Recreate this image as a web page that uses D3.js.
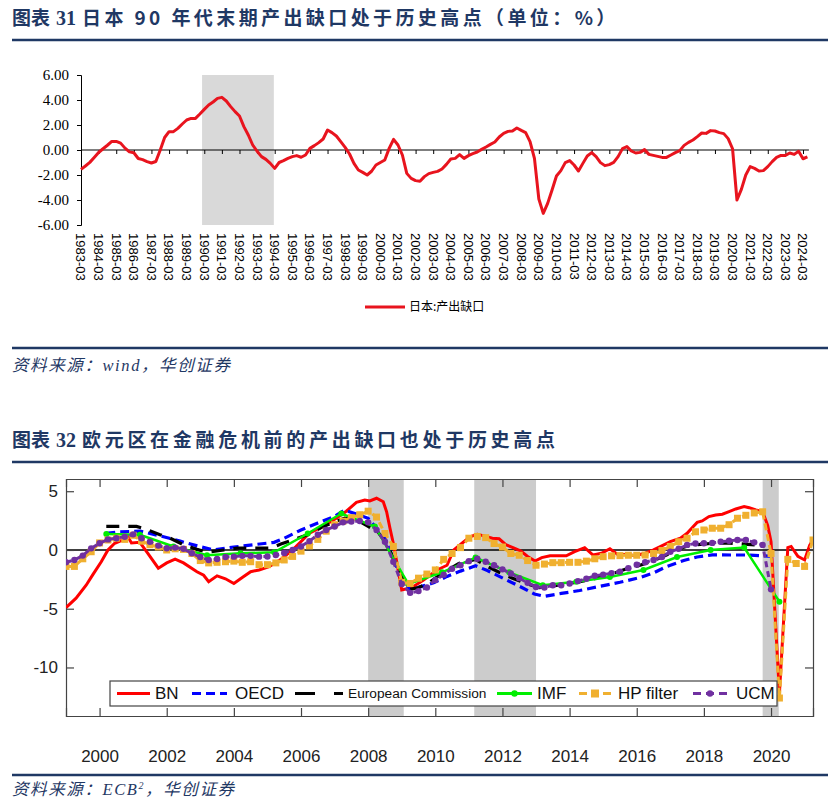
<!DOCTYPE html>
<html><head><meta charset="utf-8">
<script src="https://cdn.jsdelivr.net/npm/d3@7"></script>
<style>
body{margin:0;background:#fff;}
svg{display:block;}
</style></head><body>
<svg id="c" width="840" height="812"></svg>
<script>
// ---------------- Chart 31 data (Japan output gap, quarterly from 1983-03) ----------------
const jpStart = "1983-03";
const jpGap = [
-1.55,-1.28,-0.99,-0.6,-0.2,0.1,0.38,0.69,0.69,0.55,0.15,-0.15,-0.22,-0.68,-0.77,-0.93,-1.04,-0.92,0.0,1.0,
1.47,1.47,1.73,2.08,2.4,2.53,2.53,2.88,3.25,3.6,3.84,4.13,4.21,3.92,3.47,3.07,2.72,1.87,1.2,0.4,
-0.1,-0.53,-0.75,-1.07,-1.47,-1.0,-0.85,-0.67,-0.53,-0.45,-0.58,-0.4,0.13,0.35,0.59,0.88,1.6,1.39,1.12,0.67,
0.21,-0.32,-1.07,-1.6,-1.79,-2.0,-1.7,-1.2,-1.0,-0.8,0.13,0.85,0.4,-0.4,-1.87,-2.27,-2.45,-2.5,-2.13,-1.89,
-1.79,-1.71,-1.52,-1.15,-0.72,-0.67,-0.37,-0.67,-0.45,-0.29,-0.16,0.05,0.24,0.45,0.64,1.04,1.33,1.49,1.52,1.76,
1.57,1.39,0.67,-0.67,-3.92,-5.07,-4.27,-3.2,-2.08,-1.65,-1.01,-0.85,-1.2,-1.68,-1.07,-0.48,-0.21,-0.53,-1.01,-1.25,
-1.17,-0.99,-0.53,0.11,0.27,-0.08,-0.24,-0.19,0.03,-0.35,-0.43,-0.51,-0.59,-0.59,-0.4,-0.21,-0.05,0.37,0.61,0.8,
1.07,1.36,1.33,1.55,1.52,1.39,1.31,0.91,0.1,-4.0,-3.15,-2.0,-1.33,-1.47,-1.68,-1.65,-1.33,-0.93,-0.59,-0.43,
-0.43,-0.24,-0.35,-0.1,-0.7,-0.55
];
const jpTickLabels = ["1983-03","1984-03","1985-03","1986-03","1987-03","1988-03","1989-03","1990-03","1991-03","1992-03",
"1993-03","1994-03","1995-03","1996-03","1997-03","1998-03","1999-03","2000-03","2001-03","2002-03","2003-03","2004-03",
"2005-03","2006-03","2007-03","2008-03","2009-03","2010-03","2011-03","2012-03","2013-03","2014-03","2015-03","2016-03",
"2017-03","2018-03","2019-03","2020-03","2021-03","2022-03","2023-03","2024-03"];
const jpYTicks = [6,4,2,0,-2,-4,-6];
const jpShade = [27.5, 43.8]; // quarter index range (shaded period)
const jpSeriesName = "日本:产出缺口";

// ---------------- Chart 32 data (euro area output gap estimates) ----------------
const bn = [[1999.0,-4.9],[1999.3,-4.1],[1999.6,-3.0],[1999.8,-2.1],[2000.05,-1.0],[2000.25,0.0],[2000.45,0.57],[2000.7,0.85],[2000.85,1.1],[2000.95,0.6],[2001.2,0.65],[2001.4,-0.15],[2001.75,-1.55],[2002.0,-1.1],[2002.25,-0.78],[2002.5,-1.1],[2002.9,-1.85],[2003.1,-2.15],[2003.25,-2.7],[2003.5,-2.2],[2003.75,-2.45],[2004.0,-2.85],[2004.25,-2.35],[2004.5,-1.85],[2004.75,-1.7],[2005.05,-1.42],[2005.45,-0.7],[2005.85,0.28],[2006.25,1.42],[2006.65,2.0],[2007.05,2.7],[2007.35,3.3],[2007.65,4.05],[2007.9,4.25],[2008.05,4.17],[2008.25,4.4],[2008.45,4.1],[2008.55,3.25],[2008.65,1.85],[2008.75,0.55],[2008.85,-1.0],[2009.0,-3.4],[2009.15,-3.3],[2009.35,-3.1],[2009.65,-2.55],[2010.05,-1.7],[2010.35,-1.3],[2010.55,0.0],[2010.85,0.7],[2011.05,1.13],[2011.25,1.33],[2011.45,1.2],[2011.7,1.0],[2011.9,0.95],[2012.1,0.45],[2012.35,0.15],[2012.55,-0.1],[2012.75,-0.55],[2012.97,-0.95],[2013.17,-0.65],[2013.42,-0.5],[2013.9,-0.5],[2014.15,-0.15],[2014.45,0.2],[2014.7,-0.43],[2014.95,-0.28],[2015.2,0.1],[2015.45,-0.43],[2015.7,-0.37],[2015.95,-0.48],[2016.25,-0.28],[2016.5,0.0],[2016.7,0.28],[2017.0,0.71],[2017.3,1.0],[2017.5,1.42],[2017.65,1.9],[2017.8,2.35],[2017.95,2.47],[2018.15,2.84],[2018.35,2.98],[2018.55,3.04],[2018.75,3.26],[2018.95,3.49],[2019.2,3.7],[2019.35,3.6],[2019.55,3.4],[2019.75,3.26],[2019.9,2.1],[2020.0,0.7],[2020.25,-12.2],[2020.5,0.2],[2020.6,0.3],[2020.8,-0.55],[2021.0,-0.85],[2021.15,0.4],[2021.25,0.9]];
const oecd = [[2000.2,1.42],[2000.6,1.55],[2001.2,1.6],[2001.8,1.2],[2002.4,0.75],[2003.0,0.28],[2003.4,0.0],[2004.0,0.25],[2004.6,0.45],[2005.2,0.65],[2005.5,1.0],[2006.0,1.7],[2006.5,2.3],[2007.0,2.85],[2007.3,3.4],[2008.0,2.7],[2008.5,1.0],[2008.9,-1.8],[2009.25,-3.4],[2009.6,-3.1],[2009.95,-2.8],[2010.35,-2.25],[2010.75,-1.8],[2011.2,-1.35],[2011.55,-1.75],[2012.05,-2.45],[2012.55,-3.15],[2012.95,-3.75],[2013.25,-3.95],[2013.75,-3.7],[2014.3,-3.45],[2014.9,-3.1],[2015.5,-2.75],[2016.1,-2.35],[2016.5,-1.95],[2016.9,-1.4],[2017.4,-0.9],[2017.8,-0.6],[2018.25,-0.42],[2018.8,-0.43],[2019.3,-0.43],[2019.8,-0.5],[2020.15,-0.55]];
const ec = [[2000.2,2.0],[2000.6,2.0],[2001.1,2.0],[2001.4,1.75],[2001.8,1.3],[2002.1,1.0],[2002.5,0.45],[2002.9,0.05],[2003.2,-0.2],[2003.7,0.0],[2004.1,0.15],[2004.6,0.15],[2005.1,0.15],[2005.4,0.5],[2005.8,0.9],[2006.2,1.3],[2006.6,1.9],[2007.0,2.4],[2007.3,2.7],[2007.7,2.5],[2008.0,2.0],[2008.3,1.5],[2008.6,0.3],[2008.9,-1.8],[2009.25,-3.35],[2009.5,-3.2],[2009.8,-2.8],[2010.2,-2.0],[2010.7,-1.15],[2011.2,-0.8],[2011.55,-1.4],[2011.9,-1.9],[2012.3,-2.4],[2012.7,-2.85],[2013.1,-3.2],[2013.4,-3.1],[2013.8,-2.95],[2014.3,-2.7],[2014.7,-2.5],[2015.0,-2.15],[2015.4,-1.9],[2015.7,-1.6],[2016.1,-1.3],[2016.5,-0.9],[2016.9,-0.4],[2017.3,0.15],[2017.6,0.4],[2018.2,0.55],[2018.7,0.6],[2019.2,0.5],[2019.7,0.4]];
const imf = [[2000.2,1.35],[2001.2,1.3],[2002.2,0.3],[2003.2,-0.45],[2004.2,-0.28],[2005.2,-0.2],[2006.2,1.4],[2007.2,3.1],[2008.2,2.0],[2009.2,-2.9],[2010.2,-1.9],[2011.2,-0.65],[2012.2,-1.9],[2013.2,-3.0],[2014.2,-2.7],[2015.2,-2.3],[2016.2,-1.7],[2017.2,-0.6],[2018.2,0.0],[2019.2,0.2],[2020.25,-4.4]];
const hpStart = 1999.0; // quarterly
const hp = [-1.4,-1.4,-0.75,-0.15, 0.6,0.85,1.0,0.9, 1.25,0.75,0.45,0.25, 0.0,0.1,0.05,-0.3,
-0.9,-1.1,-1.05,-1.0, -0.95,-1.05,-1.0,-1.25, -1.25,-1.1,-0.85,-0.55, -0.1,0.35,0.9,1.6,
2.15,2.45,2.75,3.0, 3.3,2.8,1.4,0.3, -2.75,-2.85,-2.4,-2.05, -1.7,-0.8,-0.3,0.2,
1.0,1.15,1.05,0.55, 0.25,-0.3,-0.45,-0.9, -1.3,-1.2,-1.08,-1.08, -1.05,-1.05,-0.95,-0.75,
-0.57,-0.5,-0.48,-0.45, -0.45,-0.43,-0.3,-0.05, 0.3,0.7,1.0,1.55, 1.7,1.85,1.85,2.15,
2.7,2.95,3.15,3.25, -0.3,-12.6,-0.8,-1.15, -1.4,0.85];
const ucmStart = 1999.0; // quarterly
const ucm = [-1.05,-0.85,-0.48,0.14, 0.57,0.9,1.0,1.13, 1.33,1.0,0.7,0.37, 0.15,0.2,0.1,-0.28,
-0.6,-0.85,-0.77,-0.6, -0.57,-0.5,-0.5,-0.57, -0.55,-0.43,-0.25,0.0, 0.3,0.75,1.3,1.7,
2.0,2.35,2.42,2.47, 2.35,1.7,0.7,-1.0, -2.9,-3.65,-3.5,-3.2, -2.55,-2.1,-1.6,-1.3,
-0.95,-0.75,-1.0,-1.3, -1.65,-2.0,-2.4,-2.8, -3.15,-3.2,-3.0,-3.0, -2.85,-2.65,-2.45,-2.2,
-2.1,-1.97,-1.85,-1.55, -1.25,-1.05,-0.85,-0.6, -0.15,0.1,0.43,0.55, 0.57,0.6,0.7,0.78,
0.85,0.85,0.65,0.43, -3.35];
const euShades = [[2008.0,2009.06],[2011.16,2013.0],[2019.75,2020.23]];
const euXTicks = [2000,2002,2004,2006,2008,2010,2012,2014,2016,2018,2020];
const euYTicks = [5,0,-5,-10];
const euLegend = ["BN","OECD","European Commission","IMF","HP filter","UCM"];

// ---------------- drawing ----------------
const svg = d3.select("#c");
const NAVY = "#1f3864";
const SANS = "'Liberation Sans', Arial, sans-serif";
const CJK = "'Noto Sans CJK SC', sans-serif";

function header(y, num, text, ls){
  svg.append("text").attr("x",12).attr("y",y).attr("fill",NAVY)
    .attr("font-family",CJK).attr("font-weight","bold").attr("font-size",19)
    .text("图表");
  svg.append("text").attr("x",56).attr("y",y).attr("fill",NAVY)
    .attr("font-family","'Liberation Serif', serif").attr("font-weight","bold").attr("font-size",20)
    .text(num);
  svg.append("text").attr("x",82).attr("y",y).attr("fill",NAVY)
    .attr("font-family",CJK).attr("font-weight","bold").attr("font-size",19)
    .attr("letter-spacing",ls).text(text);
}
function rule(y){
  svg.append("line").attr("x1",12).attr("x2",828).attr("y1",y).attr("y2",y)
    .attr("stroke",NAVY).attr("stroke-width",2.5);
}
function source(y, parts){
  const t = svg.append("text").attr("x",12).attr("y",y).attr("fill",NAVY)
    .attr("font-family","'Liberation Serif', "+CJK).attr("font-style","italic").attr("font-size",16.5)
    .attr("letter-spacing",1.6);
  parts.forEach(p=>{
    const s = t.append("tspan").text(p.t);
    if(p.sup){ s.attr("font-size",10).attr("dy",-6); }
    if(p.after){ s.attr("dy",6); }
  });
}

header(25, "31", "日本 90 年代末期产出缺口处于历史高点（单位：%）", 3.4);
rule(40);
rule(348);
source(371, [{t:"资料来源：wind，华创证券"}]);
header(447, "32", "欧元区在金融危机前的产出缺口也处于历史高点", 3.7);
rule(462);
rule(775);
source(795, [{t:"资料来源：ECB"},{t:"2",sup:true},{t:"，华创证券",after:true}]);

// ---------- Chart 31 ----------
const g1 = svg.append("g");
const x1 = d3.scaleLinear().domain([0, jpGap.length-1]).range([81, 807.4]);
const y1 = d3.scaleLinear().domain([-6, 6]).range([225, 75]);

g1.append("rect").attr("x",x1(jpShade[0])).attr("y",y1(6))
  .attr("width",x1(jpShade[1])-x1(jpShade[0])).attr("height",y1(-6)-y1(6)).attr("fill","#d9d9d9");

const yAxis1 = d3.axisLeft(y1).tickValues(jpYTicks).tickFormat(d3.format(".2f")).tickSize(4).tickPadding(8);
const ya = g1.append("g").attr("transform",`translate(${x1(0)},0)`).call(yAxis1);
ya.select(".domain").attr("stroke","#000").attr("stroke-width",1);
ya.selectAll(".tick text").attr("font-family","'Liberation Serif', serif").attr("font-size",15).attr("fill","#000")
  .text(d=> d3.format(".2f")(d).replace("−","-"));

const tickIdx = jpTickLabels.map((_,i)=>i*4);
const xAxis1 = d3.axisBottom(x1).tickValues(tickIdx).tickSize(4).tickFormat("");
const xa = g1.append("g").attr("transform",`translate(0,${y1(0)})`).call(xAxis1);
xa.select(".domain").remove();
g1.append("line").attr("x1",x1(0)).attr("x2",x1(jpGap.length-1)+1.5).attr("y1",y1(0)).attr("y2",y1(0))
  .attr("stroke","#000").attr("stroke-width",1.2);

g1.selectAll("text.xl").data(jpTickLabels).enter().append("text").attr("class","xl")
  .attr("transform",(d,i)=>`translate(${x1(i*4)},233) rotate(90)`)
  .attr("dy","0.35em").attr("font-family",SANS).attr("font-size",13).attr("fill","#000").text(d=>d);

g1.append("path").datum(jpGap).attr("fill","none").attr("stroke","#e8141e").attr("stroke-width",3)
  .attr("stroke-linejoin","round")
  .attr("d", d3.line().x((d,i)=>x1(i)).y(d=>y1(d)));

g1.append("line").attr("x1",365).attr("x2",405).attr("y1",307).attr("y2",307).attr("stroke","#e8141e").attr("stroke-width",3);
g1.append("text").attr("x",409).attr("y",307).attr("dy","0.35em").attr("font-family",CJK).attr("font-size",12)
  .attr("fill","#000").text(jpSeriesName);

// ---------- Chart 32 ----------
const L=66, R=813, T=479, B=716;
const x2 = d3.scaleLinear().domain([1999, 2021.25]).range([L, R]);
const y2 = d3.scaleLinear().domain([-14.13, 6.04]).range([B, T]);
const g2 = svg.append("g");
svg.append("defs").append("clipPath").attr("id","clip2").append("rect")
  .attr("x",L).attr("y",T).attr("width",R-L).attr("height",B-T);

euShades.forEach(s=>{
  g2.append("rect").attr("x",x2(s[0])).attr("y",T).attr("width",x2(s[1])-x2(s[0])).attr("height",B-T).attr("fill","#cccccc");
});
g2.append("line").attr("x1",L).attr("x2",R).attr("y1",y2(0)).attr("y2",y2(0)).attr("stroke","#000").attr("stroke-width",1.5);

// axes (ticks inward on all sides)
const axB = g2.append("g").attr("transform",`translate(0,${B})`)
  .call(d3.axisBottom(x2).tickValues(euXTicks).tickSize(-8).tickPadding(34).tickFormat(d3.format("d")));
const axT = g2.append("g").attr("transform",`translate(0,${T})`)
  .call(d3.axisTop(x2).tickValues(euXTicks).tickSize(-8).tickFormat(""));
const axL = g2.append("g").attr("transform",`translate(${L},0)`)
  .call(d3.axisLeft(y2).tickValues(euYTicks).tickSize(-8).tickPadding(8).tickFormat(d=>String(d)));
const axR = g2.append("g").attr("transform",`translate(${R},0)`)
  .call(d3.axisRight(y2).tickValues(euYTicks).tickSize(-8).tickFormat(""));
[axB,axT,axL,axR].forEach(a=>{
  a.select(".domain").attr("stroke","#444").attr("stroke-width",1.2);
  a.selectAll(".tick line").attr("stroke","#444").attr("stroke-width",1.2);
  a.selectAll(".tick text").attr("font-family",SANS).attr("font-size",17).attr("fill","#222");
});

const line2 = d3.line().x(d=>x2(d[0])).y(d=>y2(d[1]));
const plot = g2.append("g").attr("clip-path","url(#clip2)");
const hpPts = hp.map((v,i)=>[hpStart + i*0.25, v]);
const ucmPts = ucm.map((v,i)=>[ucmStart + i*0.25, v]);

const C = {bn:"#ff0000", oecd:"#0000ff", ec:"#000000", imf:"#00ee00", hp:"#f0b030", ucm:"#7030a0"};

plot.append("path").datum(bn).attr("fill","none").attr("stroke",C.bn).attr("stroke-width",3).attr("d",line2);
plot.append("path").datum(oecd).attr("fill","none").attr("stroke",C.oecd).attr("stroke-width",3.2)
  .attr("stroke-dasharray","9,5").attr("d",line2);
plot.append("path").datum(ec).attr("fill","none").attr("stroke",C.ec).attr("stroke-width",3.2)
  .attr("stroke-dasharray","13,9").attr("d",line2);
plot.append("path").datum(imf).attr("fill","none").attr("stroke",C.imf).attr("stroke-width",2.5).attr("d",line2);
plot.selectAll("circle.imf").data(imf).enter().append("circle").attr("class","imf")
  .attr("cx",d=>x2(d[0])).attr("cy",d=>y2(d[1])).attr("r",3).attr("fill",C.imf);
plot.append("path").datum(hpPts).attr("fill","none").attr("stroke",C.hp).attr("stroke-width",3)
  .attr("stroke-dasharray","7,4").attr("d",line2);
plot.selectAll("rect.hp").data(hpPts).enter().append("rect").attr("class","hp")
  .attr("x",d=>x2(d[0])-3.5).attr("y",d=>y2(d[1])-3.5).attr("width",7).attr("height",7).attr("fill",C.hp);
plot.append("path").datum(ucmPts).attr("fill","none").attr("stroke",C.ucm).attr("stroke-width",3)
  .attr("stroke-dasharray","6,4").attr("d",line2);
plot.selectAll("circle.ucm").data(ucmPts).enter().append("circle").attr("class","ucm")
  .attr("cx",d=>x2(d[0])).attr("cy",d=>y2(d[1])).attr("r",3.2).attr("fill",C.ucm);

// legend
const lg = g2.append("g");
lg.append("rect").attr("x",110).attr("y",681).attr("width",667).attr("height",25)
  .attr("fill","#fff").attr("stroke","#444").attr("stroke-width",1.2);
const ly = 693.5;
const items = [
  {n:euLegend[0], c:C.bn, x1:117, x2:150, tx:155, dash:null},
  {n:euLegend[1], c:C.oecd, x1:192, x2:227, tx:235, dash:"9,5"},
  {n:euLegend[2], c:C.ec, x1:295, x2:343, tx:348, dash:"20,19", fs:13.7},
  {n:euLegend[3], c:C.imf, x1:497, x2:532, tx:537, dash:null, mk:"c"},
  {n:euLegend[4], c:C.hp, x1:579, x2:611, tx:618, dash:"8,4", mk:"s"},
  {n:euLegend[5], c:C.ucm, x1:693, x2:727, tx:736, dash:"8,5", mk:"c"}
];
items.forEach(it=>{
  const l = lg.append("line").attr("x1",it.x1).attr("x2",it.x2).attr("y1",ly).attr("y2",ly)
    .attr("stroke",it.c).attr("stroke-width",3.2);
  if(it.dash) l.attr("stroke-dasharray",it.dash);
  const cx=(it.x1+it.x2)/2;
  if(it.mk==="c") lg.append("circle").attr("cx",cx).attr("cy",ly).attr("r",3.2).attr("fill",it.c);
  if(it.mk==="s") lg.append("rect").attr("x",cx-4).attr("y",ly-4).attr("width",8).attr("height",8).attr("fill",it.c);
  lg.append("text").attr("x",it.tx).attr("y",ly).attr("dy","0.35em").attr("font-family",SANS)
    .attr("font-size",it.fs||17).attr("fill","#111").text(it.n);
});
</script>
</body></html>
